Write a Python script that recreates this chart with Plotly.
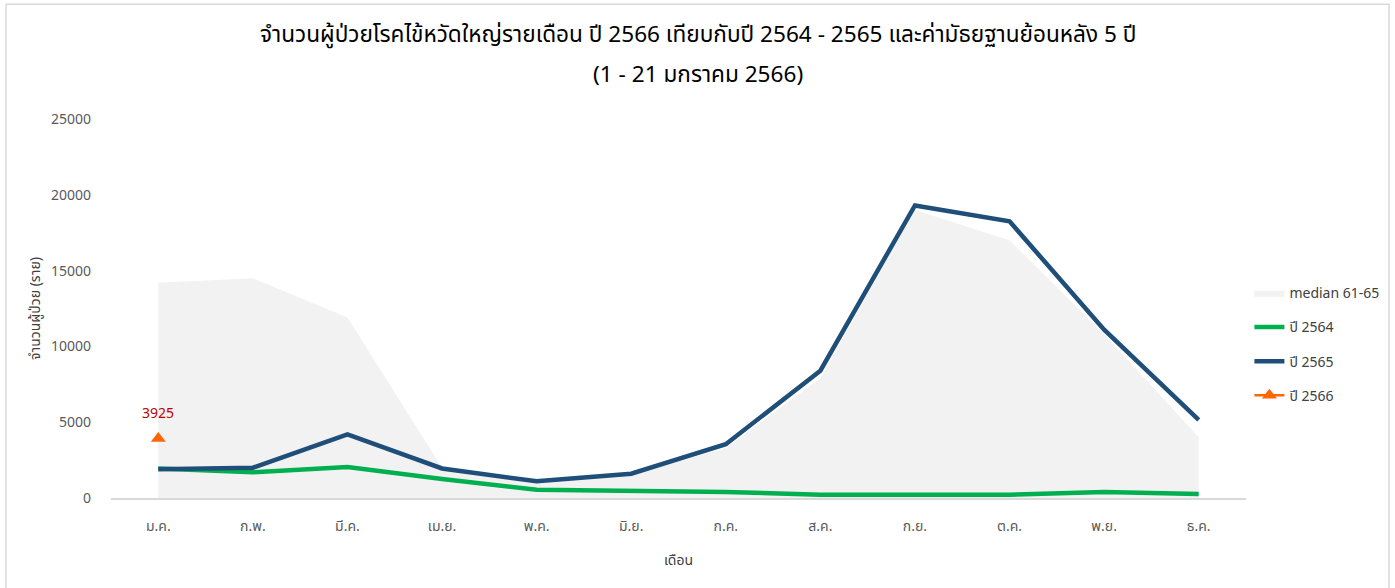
import plotly.graph_objects as go

months = ["ม.ค.", "ก.พ.", "มี.ค.", "เม.ย.", "พ.ค.", "มิ.ย.", "ก.ค.", "ส.ค.", "ก.ย.", "ต.ค.", "พ.ย.", "ธ.ค."]
median_61_65 = [14200, 14500, 11900, 2000, 1100, 1500, 3300, 7900, 19000, 17000, 10800, 4000]
y2564 = [1950, 1700, 2050, 1250, 550, 470, 400, 220, 220, 220, 400, 270]
y2565 = [1900, 2000, 4200, 1950, 1100, 1600, 3550, 8400, 19300, 18250, 11100, 5150]
y2566 = [3925]

title_line1 = "จำนวนผู้ป่วยโรคไข้หวัดใหญ่รายเดือน ปี 2566 เทียบกับปี 2564 - 2565 และค่ามัธยฐานย้อนหลัง 5 ปี"
title_line2 = "(1 - 21 มกราคม 2566)"

FONT = "Tahoma, 'Noto Sans Thai', 'Noto Sans', sans-serif"

fig = go.Figure()
fig.add_trace(go.Scatter(x=months, y=median_61_65, name="median 61-65", mode="lines", legendgroup="a",
                         fill="tozeroy", fillcolor="#f2f2f2", line=dict(width=0, color="#f2f2f2")))
fig.add_trace(go.Scatter(x=months, y=y2564, name="ปี 2564", mode="lines", legendgroup="b",
                         line=dict(color="#00b050", width=4.5)))
fig.add_trace(go.Scatter(x=months, y=y2565, name="ปี 2565", mode="lines", legendgroup="c",
                         line=dict(color="#1f4e79", width=4.5)))
fig.add_trace(go.Scatter(x=months[:len(y2566)], y=y2566, name="ปี 2566", mode="lines+markers", legendgroup="d",
                         line=dict(color="#ff6600", width=2.5),
                         marker=dict(symbol="triangle-up", size=13, color="#ff6600")))

fig.add_annotation(x=months[0], y=y2566[0], text=str(y2566[0]), showarrow=False,
                   yshift=25, font=dict(color="#c00000", size=14, family=FONT))

fig.add_annotation(xref="paper", yref="paper", x=0.517, y=1.2216, text=title_line1, showarrow=False,
                   xanchor="center", yanchor="middle", font=dict(size=22.6, color="#000000", family=FONT))
fig.add_annotation(xref="paper", yref="paper", x=0.517, y=1.116, text=title_line2, showarrow=False,
                   xanchor="center", yanchor="middle", font=dict(size=22.6, color="#000000", family=FONT))

fig.update_layout(
    width=1395, height=588,
    paper_bgcolor="white", plot_bgcolor="white",
    margin=dict(l=111, r=149, t=119, b=90, autoexpand=False),
    font=dict(family=FONT, color="#595959"),
    xaxis=dict(range=[-0.5, 11.5], showgrid=False, showline=True, linecolor="#d9d9d9", linewidth=1.5,
               tickfont=dict(size=14, color="#595959"), ticks="", ticklabelstandoff=14,
               title=dict(text="เดือน", font=dict(size=14, color="#404040"), standoff=20)),
    yaxis=dict(range=[0, 25000], dtick=5000, tickformat="d", showgrid=False, zeroline=False, showline=False,
               tickfont=dict(size=14, color="#595959"), ticks="", ticklabelstandoff=19,
               title=dict(text="จำนวนผู้ป่วย (ราย)", font=dict(size=14, color="#404040"), standoff=7)),
    legend=dict(x=1.003, y=0.406, xanchor="left", yanchor="middle",
                font=dict(size=14, color="#404040"), tracegroupgap=13, itemwidth=30),
    showlegend=True,
)
fig.add_shape(type="rect", xref="paper", yref="paper", x0=-0.0925, x1=1.126, y0=-0.25, y1=1.303,
              line=dict(color="#d9d9d9", width=1.5), fillcolor="rgba(0,0,0,0)", layer="above")

fig.write_html("out.html", config={"displayModeBar": False},
               post_script="document.body.style.margin='0';")
